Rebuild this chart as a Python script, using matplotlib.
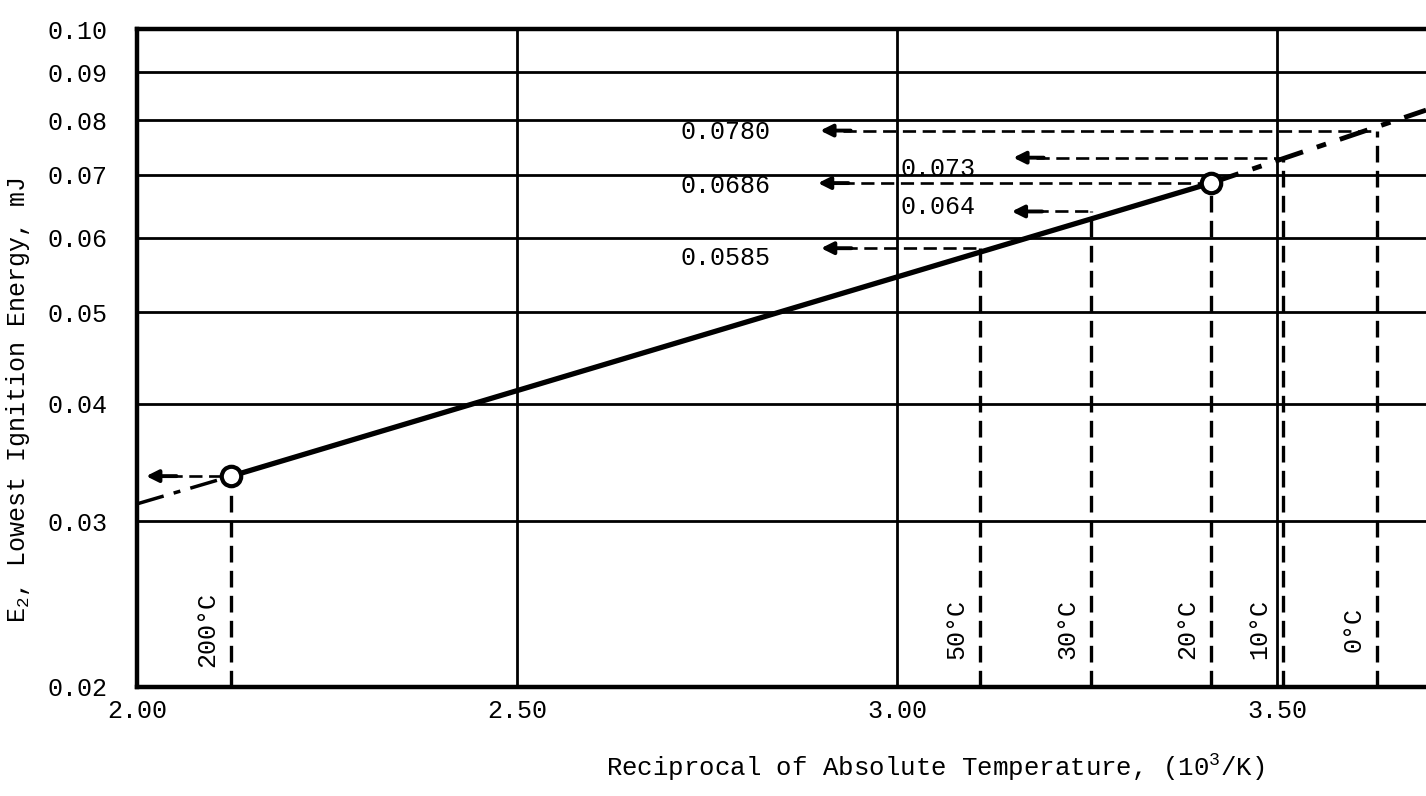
import matplotlib
matplotlib.use("Agg")
import matplotlib.pyplot as plt
from matplotlib.ticker import FixedLocator, NullLocator, FuncFormatter

plt.rcParams['font.family'] = ['Liberation Mono', 'DejaVu Sans Mono']
plt.rcParams['mathtext.fontset'] = 'custom'
plt.rcParams['mathtext.rm'] = 'Liberation Mono'
plt.rcParams['mathtext.it'] = 'Liberation Mono'

# read-off points (reciprocal temperature, 10^3/K) and ignition energy (mJ)
temp_labels = ['200°C', '50°C', '30°C', '20°C', '10°C', '0°C']
inv_temp = [2.124, 3.109, 3.255, 3.413, 3.508, 3.632]
energy = [0.0335, 0.0585, 0.064, 0.0686, 0.073, 0.0780]
value_labels = ['', '0.0585', '0.064', '0.0686', '0.073', '0.0780']
arrow_tip = [2.012, 2.900, 3.151, 2.896, 3.153, 2.899]

# fitted line: left extrapolation, measured span, right extrapolation
line_x = [2.00, 2.124, 3.413, 3.696]
line_y = [0.0313, 0.0335, 0.0686, 0.0820]
circle_idx = [0, 3]

y_ticks = [0.02, 0.03, 0.04, 0.05, 0.06, 0.07, 0.08, 0.09, 0.10]
x_ticks = [2.00, 2.50, 3.00, 3.50]

fig = plt.figure(figsize=(14.26, 7.96), dpi=100)
ax = fig.add_axes([137 / 1426, 1 - 687 / 796, 1 - 137 / 1426, (687 - 29) / 796])
ax.set_yscale('log')
ax.set_xlim(2.0, 3.696)
ax.set_ylim(0.02, 0.10)

ax.yaxis.set_major_locator(FixedLocator(y_ticks))
ax.yaxis.set_minor_locator(NullLocator())
ax.yaxis.set_major_formatter(FuncFormatter(lambda v, p: f"{v:.2f}"))
ax.xaxis.set_major_locator(FixedLocator(x_ticks))
ax.xaxis.set_major_formatter(FuncFormatter(lambda v, p: f"{v:.2f}"))
ax.tick_params(axis='both', length=0, labelsize=18)
ax.tick_params(axis='y', pad=21)
ax.tick_params(axis='x', pad=9)

ax.grid(True, which='major', color='black', lw=2.0)
ax.set_axisbelow(True)
for s in ['left', 'bottom', 'top']:
    ax.spines[s].set_linewidth(3.2)
ax.spines['right'].set_visible(False)

# energy line
ax.plot(line_x[1:3], line_y[1:3], color='black', lw=3.8, solid_capstyle='round', zorder=4)
ax.plot(line_x[:2], line_y[:2], color='black', lw=2.5, ls=(0, (8, 3, 2, 3)), zorder=4)
ax.plot(line_x[2:], line_y[2:], color='black', lw=3.5, ls=(0, (6, 3, 2, 3)), zorder=4)

# leader lines, arrows and labels
dash = (0, (5, 2.5))
for i, (lab, x, e) in enumerate(zip(temp_labels, inv_temp, energy)):
    ax.plot([x, x], [0.02, e], color='black', lw=2.4, ls=dash, zorder=3)
    tip = arrow_tip[i]
    ax.plot([tip + 0.03, x], [e, e], color='black', lw=1.9, ls=dash, zorder=3)
    ax.annotate('', xy=(tip, e), xytext=(tip + 0.04, e),
                arrowprops=dict(arrowstyle='-|>', color='black', lw=2.8,
                                mutation_scale=18, shrinkA=0, shrinkB=0), zorder=5)
    ax.annotate(lab, xy=(x, 0.02304), xytext=(-17, 0), textcoords='offset points',
                rotation=90, ha='center', va='center', fontsize=18)

label_layout = {
    '0.0780': (2.833, 'right', -1),
    '0.073': (3.004, 'left', -8),
    '0.0686': (2.833, 'right', -2),
    '0.064': (3.004, 'left', 3),
    '0.0585': (2.833, 'right', -7),
}
for lab, e in zip(value_labels, energy):
    if not lab:
        continue
    lx, ha, dy = label_layout[lab]
    ax.annotate(lab, xy=(lx, e), xytext=(0, dy), textcoords='offset points',
                ha=ha, va='center', fontsize=18)

for i in circle_idx:
    ax.plot(inv_temp[i], energy[i], marker='o', ms=14, mew=3, mfc='white',
            mec='black', zorder=6)

fig.text(18 / 1426, 1 - 400 / 796, 'E$_2$, Lowest Ignition Energy, mJ',
         rotation=90, ha='center', va='center', fontsize=18)
fig.text(935 / 1426, 1 - 768 / 796, 'Reciprocal of Absolute Temperature, (10$^3$/K)',
         ha='center', va='center', fontsize=18.5)

fig.savefig('out.png', dpi=100)
